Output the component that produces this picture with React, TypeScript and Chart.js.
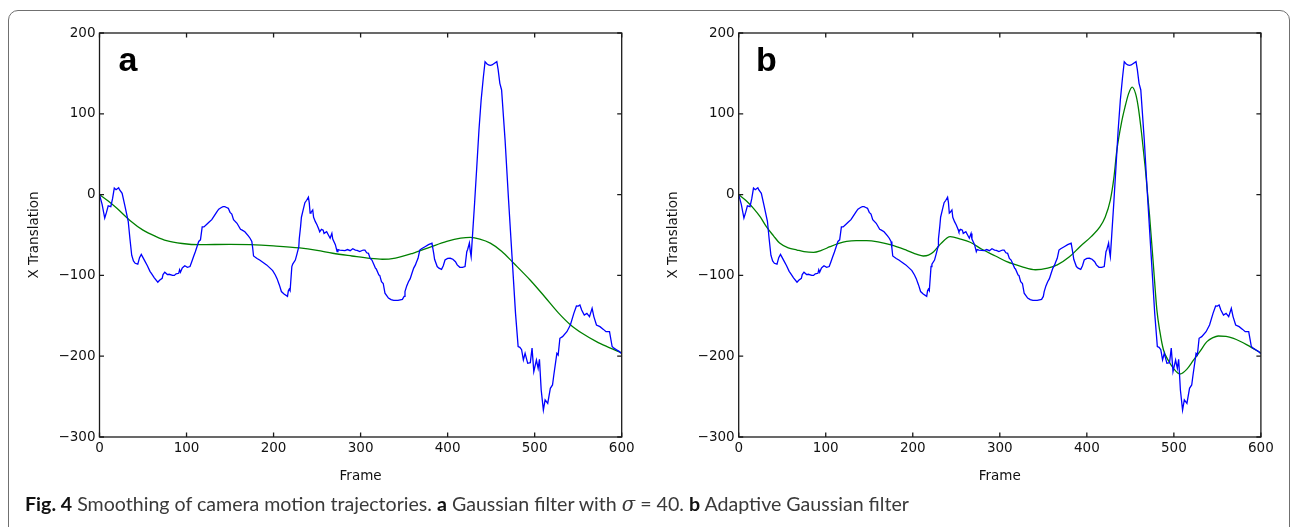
import React, { useEffect, useRef } from "react";
import { Chart, registerables } from "chart.js";

Chart.register(...registerables);

// Raw camera trajectory (blue), shared by both panels
const blueFrames = [
  0, 3, 6, 8, 10, 13, 15, 17, 19, 22, 23, 26, 29, 33, 35, 37, 39, 41, 44, 46, 48, 50, 52, 55, 58, 60, 63, 67, 69, 72,
  73, 75, 78, 80, 84, 86, 88, 91, 92, 93, 95, 96, 98, 101, 104, 106, 108, 110, 112, 114, 116, 117, 118, 120, 123, 126,
  129, 132, 135, 137, 140, 142, 144, 146, 148, 150, 152, 154, 158, 162, 164, 167, 171, 173, 175, 176, 177, 181, 184,
  188, 192, 196, 199, 202, 204, 206, 207, 209, 212, 216, 217, 218, 219, 221, 222, 225, 227, 229, 229.5, 231, 232, 234,
  236, 238, 240, 241, 242, 243, 245, 246, 248, 250, 252, 253, 255, 257, 258, 261, 263, 265, 267, 268, 271, 273, 274,
  276, 282, 285, 288, 291, 294, 296, 299, 303, 305, 307, 309, 311, 313, 315, 317, 318, 321, 322, 324, 326, 328, 330,
  332, 335, 338, 341, 343, 348, 350, 351, 353, 355, 357, 359, 361, 363, 364, 366, 368, 370, 374, 378, 382, 384, 385,
  388, 390, 393, 395, 397, 400, 403, 406, 409, 411, 414, 417, 420, 422, 423, 425, 426, 427, 428.5, 431, 433.5, 436,
  438.5, 441, 443, 445, 447, 449, 451, 453, 456.5, 458, 460, 462, 466, 470, 474, 478, 481, 483, 485, 487, 489, 492,
  495, 497, 499, 502, 504, 505.5, 507.5, 510, 512, 515, 518, 520.5, 522, 525.5, 527, 529, 532, 537, 541, 545, 548,
  550, 552, 554, 557, 560, 563, 566, 568, 571, 575, 579, 582, 586, 589, 591, 594, 597, 600,
];
const blueValues = [
  0, -12, -29, -22, -14, -15, -5, 8, 6, 8.5, 6, 1.6, -13, -33, -55, -75, -82, -85, -86, -78, -74, -78, -82, -88, -95,
  -98, -103, -108.5, -106, -103.6, -99, -96, -99, -98.6, -100, -100, -98, -97.4, -93, -96, -91, -90, -88, -90, -89, -83,
  -77, -71, -64.5, -58, -56, -48, -40, -40, -37, -34, -31, -26, -21, -18, -16, -15, -15, -16, -17, -22, -24, -31, -35.5,
  -43, -44, -46, -51, -54, -58, -66, -76, -79, -81, -84, -87, -91, -94, -99.5, -104, -110, -113, -120, -123, -126, -119,
  -117, -119, -89, -86, -81, -73, -64.5, -55, -40, -28, -19, -10, -7, -3.3, -10, -23, -22, -19, -28, -33.5, -37.6, -43,
  -46, -43, -44, -48, -46, -50, -54, -48, -55, -62, -70.6, -68, -68.6, -69.4, -68, -69.4, -67, -68.6, -69, -70.6, -68.6,
  -68.6, -72, -72.7, -79, -81, -86, -91, -92, -99.5, -100, -107.8, -110, -122, -125, -128, -130, -131, -131, -131,
  -129.6, -126, -120, -113, -107.8, -104, -97.4, -91, -87, -84, -78.8, -68.6, -67, -64.5, -62, -60, -72.7, -80, -89,
  -91, -92.5, -88, -81, -79, -78.8, -80, -83, -87, -90, -90, -89, -70.6, -68, -60, -70, -76.8, -52, -10, 34.5, 80, 117,
  145, 164.5, 162, 160.4, 160, 160.4, 162, 164.5, 155, 137.7, 129.5, 67.6, -6.7, -76.8, -147, -188, -189, -192, -204.7,
  -196.4, -208.8, -208, -190, -219, -204.7, -215, -203.8, -241.8, -266.6, -254, -258.3, -239.7, -235.6, -223.3, -196.4,
  -198.5, -177.8, -175.8, -169.7, -161.4, -147, -137.9, -138, -136.6, -142.8, -149, -147, -151, -140.7, -151, -161.4,
  -163.4, -166.8, -169.7, -169.7, -188, -190, -192, -194, -197,
];

// Panel a: Gaussian filter, sigma = 40 (green)
const greenAFrames = [
  0, 10, 20, 35, 50, 65, 77, 95, 115, 150, 173, 200, 230, 250, 268, 290, 311, 325, 340, 360, 380, 399, 415, 426, 437,
  449, 462, 476, 495, 512, 527, 541, 555, 571, 585, 600,
];
const greenAValues = [
  0, -8, -17, -32, -44, -52, -57, -60.5, -62, -61.5, -62, -63.5, -66, -69, -72.6, -76, -79, -80, -78.5, -72.6, -65, -58,
  -54, -53, -55, -60, -70, -85, -106, -127, -146, -161, -172, -182, -189, -196,
];

// Panel b: Adaptive Gaussian filter (green)
const greenBFrames = [
  0, 8, 17, 25, 32, 40, 47, 57, 67, 75, 86, 95, 105, 115, 124, 135, 147, 160, 174, 193, 205, 212, 218, 224, 232, 243,
  255, 266, 280, 295, 308, 325, 341, 355, 366, 380, 392, 405, 415, 421, 427, 431, 434.5, 440, 444, 448, 452, 456, 459,
  463, 467, 472, 476.6, 480.5, 484, 488, 494, 499.5, 507, 515, 522.5, 530, 538, 545, 551, 560, 568.5, 576, 584, 592, 600,
];
const greenBValues = [
  0, -7, -17, -28, -40, -51, -60, -66, -68.6, -70.5, -71.4, -69, -64.5, -60.5, -58, -57, -57, -58.5, -62, -69, -74, -76,
  -75, -70.7, -61, -52, -55, -59, -68, -76, -83, -89, -93, -91, -87, -77, -64.5, -52, -40, -28, -6.7, 20, 55, 90, 109,
  125, 133, 125, 109, 75, 34.5, -25, -89, -143, -170, -192, -206, -215, -222, -216, -205, -194, -182, -177, -175, -175.5,
  -178, -181.5, -186, -191, -196,
];

const xTicks = [0, 100, 200, 300, 400, 500, 600];
const yTicks = [-300, -200, -100, 0, 100, 200];

const xAxisTitle = "Frame";
const yAxisTitle = "X Translation";

const toPoints = (xs: number[], ys: number[]) => xs.map((x, i) => ({ x, y: ys[i] }));

const framePlugin = {
  id: "mplFrame",
  afterDatasetsDraw(chart: any) {
    const { ctx, chartArea, scales } = chart;
    const { left, right, top, bottom } = chartArea;
    const L = 4.5;
    ctx.save();
    ctx.strokeStyle = "#1a1a1a";
    ctx.lineWidth = 1.3;
    ctx.strokeRect(left, top, right - left, bottom - top);
    ctx.beginPath();
    xTicks.forEach((v) => {
      const px = scales.x.getPixelForValue(v);
      ctx.moveTo(px, bottom);
      ctx.lineTo(px, bottom - L);
      ctx.moveTo(px, top);
      ctx.lineTo(px, top + L);
    });
    yTicks.forEach((v) => {
      const py = scales.y.getPixelForValue(v);
      ctx.moveTo(left, py);
      ctx.lineTo(left + L, py);
      ctx.moveTo(right, py);
      ctx.lineTo(right - L, py);
    });
    ctx.stroke();
    ctx.restore();
  },
};

const CW = 646;
const CH = 500;
const tickFont = { family: "'DejaVu Sans', sans-serif", size: 13.5 };

function Panel({ left, axisLeft, greenFrames, greenValues }: any) {
  const ref = useRef<HTMLCanvasElement | null>(null);
  useEffect(() => {
    if (!ref.current) return;
    const chart = new Chart(ref.current, {
      type: "line",
      data: {
        datasets: [
          {
            data: toPoints(blueFrames, blueValues),
            borderColor: "#0000ff",
            borderWidth: 1.3,
            pointRadius: 0,
            tension: 0,
          },
          {
            data: toPoints(greenFrames, greenValues),
            borderColor: "#008000",
            borderWidth: 1.3,
            pointRadius: 0,
            cubicInterpolationMode: "monotone",
          },
        ],
      },
      options: {
        animation: false,
        responsive: false,
        events: [],
        layout: { padding: { left: 0, right: CW - (axisLeft + 522.2), top: 33, bottom: 0 } },
        plugins: { legend: { display: false }, tooltip: { enabled: false } },
        scales: {
          x: {
            type: "linear",
            min: 0,
            max: 600,
            afterBuildTicks: (s: any) => {
              s.ticks = xTicks.map((value) => ({ value }));
            },
            afterFit: (s: any) => {
              s.height = CH - 437;
            },
            ticks: { font: tickFont, color: "#111", padding: 3, maxRotation: 0, autoSkip: false },
            grid: { display: false, drawTicks: false },
            border: { display: false },
            title: {
              display: true,
              text: xAxisTitle,
              font: tickFont,
              color: "#111",
              padding: { top: 0, bottom: 15 },
            },
          },
          y: {
            type: "linear",
            min: -300,
            max: 200,
            afterBuildTicks: (s: any) => {
              s.ticks = yTicks.map((value) => ({ value }));
            },
            afterFit: (s: any) => {
              s.width = axisLeft;
            },
            ticks: {
              font: tickFont,
              color: "#111",
              padding: 4,
              autoSkip: false,
              callback: (v: any) => (v < 0 ? "\u2212" + Math.abs(v) : String(v)),
            },
            grid: { display: false, drawTicks: false },
            border: { display: false },
            title: {
              display: true,
              text: yAxisTitle,
              font: tickFont,
              color: "#111",
              padding: { top: 26, bottom: 0 },
            },
          },
        },
      },
      plugins: [framePlugin],
    } as any);
    return () => chart.destroy();
  }, []);
  return (
    <canvas
      ref={ref}
      width={CW}
      height={CH}
      style={{ position: "absolute", left, top: 0, width: CW, height: CH, display: "block" }}
    />
  );
}

const letterStyle: React.CSSProperties = {
  position: "absolute",
  fontFamily: "'Liberation Sans', Arial, sans-serif",
  fontWeight: 700,
  fontSize: 34,
  lineHeight: "34px",
  color: "#000",
};

export default function App() {
  return (
    <div
      style={{
        position: "absolute",
        left: 0,
        top: 0,
        width: 1292,
        height: 527,
        overflow: "hidden",
        background: "#fff",
      }}
    >
      <div
        style={{
          position: "absolute",
          left: 8,
          top: 10,
          width: 1282,
          height: 700,
          border: "1.5px solid #707070",
          borderRadius: 10,
          boxSizing: "border-box",
        }}
      />
      <Panel left={0} axisLeft={99.5} greenFrames={greenAFrames} greenValues={greenAValues} />
      <Panel left={639} axisLeft={99.7} greenFrames={greenBFrames} greenValues={greenBValues} />
      <div style={{ ...letterStyle, left: 118.5, top: 42 }}>a</div>
      <div style={{ ...letterStyle, left: 756, top: 42 }}>b</div>
      <div
        style={{
          position: "absolute",
          left: 25,
          top: 494,
          fontFamily: "Lato, 'Open Sans', sans-serif",
          fontSize: 19.6,
          lineHeight: "19.6px",
          color: "#3a3a3a",
          whiteSpace: "nowrap",
        }}
      >
        <b style={{ color: "#111" }}>Fig. 4</b> Smoothing of camera motion trajectories. <b style={{ color: "#111" }}>a</b>{" "}
        Gaussian filter with <span style={{ fontFamily: "'DejaVu Serif', serif", fontStyle: "italic" }}>σ</span> = 40.{" "}
        <b style={{ color: "#111" }}>b</b> Adaptive Gaussian filter
      </div>
    </div>
  );
}
